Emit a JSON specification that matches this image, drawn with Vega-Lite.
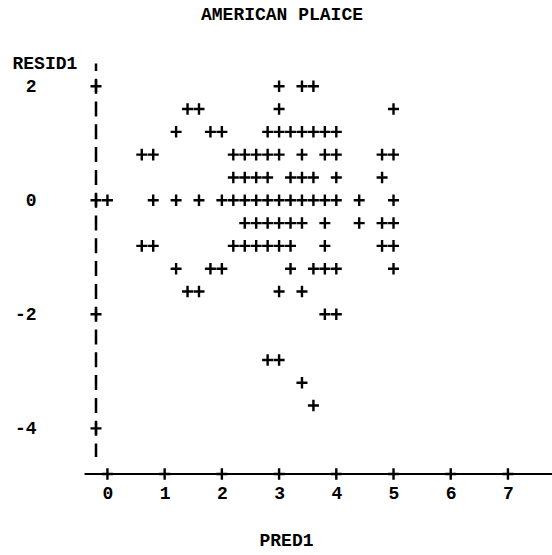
{
  "$schema": "https://vega.github.io/schema/vega-lite/v6.json",
  "width": 456,
  "height": 422,
  "autosize": {"type": "none"},
  "padding": {"left": 96, "top": 52, "right": 0, "bottom": 81},
  "background": "white",
  "config": {"view": {"stroke": null}},
  "title": {
    "text": "AMERICAN PLAICE",
    "anchor": "middle",
    "frame": "group",
    "dx": -42,
    "offset": 28,
    "font": "Liberation Mono",
    "fontWeight": "bold",
    "fontSize": 18,
    "color": "black"
  },
  "datasets": {
    "pts": [
      {"PRED1": 3.0, "RESID1": 2.0}, {"PRED1": 3.4, "RESID1": 2.0}, {"PRED1": 3.6, "RESID1": 2.0},
      {"PRED1": 1.4, "RESID1": 1.6}, {"PRED1": 1.6, "RESID1": 1.6}, {"PRED1": 3.0, "RESID1": 1.6}, {"PRED1": 5.0, "RESID1": 1.6},
      {"PRED1": 1.2, "RESID1": 1.2}, {"PRED1": 1.8, "RESID1": 1.2}, {"PRED1": 2.0, "RESID1": 1.2}, {"PRED1": 2.8, "RESID1": 1.2}, {"PRED1": 3.0, "RESID1": 1.2}, {"PRED1": 3.2, "RESID1": 1.2}, {"PRED1": 3.4, "RESID1": 1.2}, {"PRED1": 3.6, "RESID1": 1.2}, {"PRED1": 3.8, "RESID1": 1.2}, {"PRED1": 4.0, "RESID1": 1.2},
      {"PRED1": 0.6, "RESID1": 0.8}, {"PRED1": 0.8, "RESID1": 0.8}, {"PRED1": 2.2, "RESID1": 0.8}, {"PRED1": 2.4, "RESID1": 0.8}, {"PRED1": 2.6, "RESID1": 0.8}, {"PRED1": 2.8, "RESID1": 0.8}, {"PRED1": 3.0, "RESID1": 0.8}, {"PRED1": 3.4, "RESID1": 0.8}, {"PRED1": 3.8, "RESID1": 0.8}, {"PRED1": 4.0, "RESID1": 0.8}, {"PRED1": 4.8, "RESID1": 0.8}, {"PRED1": 5.0, "RESID1": 0.8},
      {"PRED1": 2.2, "RESID1": 0.4}, {"PRED1": 2.4, "RESID1": 0.4}, {"PRED1": 2.6, "RESID1": 0.4}, {"PRED1": 2.8, "RESID1": 0.4}, {"PRED1": 3.2, "RESID1": 0.4}, {"PRED1": 3.4, "RESID1": 0.4}, {"PRED1": 3.6, "RESID1": 0.4}, {"PRED1": 4.0, "RESID1": 0.4}, {"PRED1": 4.8, "RESID1": 0.4},
      {"PRED1": 0.0, "RESID1": 0.0}, {"PRED1": 0.8, "RESID1": 0.0}, {"PRED1": 1.2, "RESID1": 0.0}, {"PRED1": 1.6, "RESID1": 0.0}, {"PRED1": 2.0, "RESID1": 0.0}, {"PRED1": 2.2, "RESID1": 0.0}, {"PRED1": 2.4, "RESID1": 0.0}, {"PRED1": 2.6, "RESID1": 0.0}, {"PRED1": 2.8, "RESID1": 0.0}, {"PRED1": 3.0, "RESID1": 0.0}, {"PRED1": 3.2, "RESID1": 0.0}, {"PRED1": 3.4, "RESID1": 0.0}, {"PRED1": 3.6, "RESID1": 0.0}, {"PRED1": 3.8, "RESID1": 0.0}, {"PRED1": 4.0, "RESID1": 0.0}, {"PRED1": 4.4, "RESID1": 0.0}, {"PRED1": 5.0, "RESID1": 0.0},
      {"PRED1": 2.4, "RESID1": -0.4}, {"PRED1": 2.6, "RESID1": -0.4}, {"PRED1": 2.8, "RESID1": -0.4}, {"PRED1": 3.0, "RESID1": -0.4}, {"PRED1": 3.2, "RESID1": -0.4}, {"PRED1": 3.4, "RESID1": -0.4}, {"PRED1": 3.8, "RESID1": -0.4}, {"PRED1": 4.4, "RESID1": -0.4}, {"PRED1": 4.8, "RESID1": -0.4}, {"PRED1": 5.0, "RESID1": -0.4},
      {"PRED1": 0.6, "RESID1": -0.8}, {"PRED1": 0.8, "RESID1": -0.8}, {"PRED1": 2.2, "RESID1": -0.8}, {"PRED1": 2.4, "RESID1": -0.8}, {"PRED1": 2.6, "RESID1": -0.8}, {"PRED1": 2.8, "RESID1": -0.8}, {"PRED1": 3.0, "RESID1": -0.8}, {"PRED1": 3.2, "RESID1": -0.8}, {"PRED1": 3.8, "RESID1": -0.8}, {"PRED1": 4.8, "RESID1": -0.8}, {"PRED1": 5.0, "RESID1": -0.8},
      {"PRED1": 1.2, "RESID1": -1.2}, {"PRED1": 1.8, "RESID1": -1.2}, {"PRED1": 2.0, "RESID1": -1.2}, {"PRED1": 3.2, "RESID1": -1.2}, {"PRED1": 3.6, "RESID1": -1.2}, {"PRED1": 3.8, "RESID1": -1.2}, {"PRED1": 4.0, "RESID1": -1.2}, {"PRED1": 5.0, "RESID1": -1.2},
      {"PRED1": 1.4, "RESID1": -1.6}, {"PRED1": 1.6, "RESID1": -1.6}, {"PRED1": 3.0, "RESID1": -1.6}, {"PRED1": 3.4, "RESID1": -1.6},
      {"PRED1": 3.8, "RESID1": -2.0}, {"PRED1": 4.0, "RESID1": -2.0},
      {"PRED1": 2.8, "RESID1": -2.8}, {"PRED1": 3.0, "RESID1": -2.8},
      {"PRED1": 3.4, "RESID1": -3.2},
      {"PRED1": 3.6, "RESID1": -3.6}
    ],
    "xt": [{"v": 0}, {"v": 1}, {"v": 2}, {"v": 3}, {"v": 4}, {"v": 5}, {"v": 6}, {"v": 7}],
    "yt": [{"v": 2}, {"v": 0}, {"v": -2}, {"v": -4}]
  },
  "layer": [
    {
      "data": {"values": [{}]},
      "mark": {"type": "rule", "color": "black", "strokeWidth": 2.5, "strokeDash": [15, 7.8], "strokeDashOffset": 7.5},
      "encoding": {
        "x": {"datum": -0.2, "type": "quantitative"},
        "y": {"datum": 2.4, "type": "quantitative"},
        "y2": {"datum": -4.5}
      }
    },
    {
      "data": {"values": [{}]},
      "mark": {"type": "rule", "color": "black", "strokeWidth": 2},
      "encoding": {
        "x": {"datum": -0.4, "type": "quantitative"},
        "x2": {"datum": 7.77},
        "y": {"datum": -4.8, "type": "quantitative"}
      }
    },
    {
      "data": {"name": "pts"},
      "mark": {"type": "point", "shape": "M-1,0H1M0,-1.05V1.05", "filled": false, "stroke": "black", "strokeWidth": 2.4, "size": 121, "opacity": 1},
      "encoding": {
        "x": {
          "field": "PRED1", "type": "quantitative",
          "scale": {"domain": [-0.2, 7.77], "nice": false, "zero": false},
          "axis": {
            "title": "PRED1", "values": [0, 1, 2, 3, 4, 5, 6, 7], "labelExpr": "'' + datum.value",
            "domain": false, "ticks": false, "grid": false,
            "labelPadding": 10, "labelFlush": false, "labelFont": "Liberation Mono", "labelFontWeight": "bold", "labelFontSize": 18, "labelColor": "black",
            "titleFont": "Liberation Mono", "titleFontWeight": "bold", "titleFontSize": 18, "titleColor": "black",
            "titleX": 190, "titleY": 66, "titleAlign": "center", "titleBaseline": "middle"
          }
        },
        "y": {
          "field": "RESID1", "type": "quantitative",
          "scale": {"domain": [-4.8, 2.6], "nice": false, "zero": false},
          "axis": {
            "title": "RESID1", "values": [2, 0, -2, -4], "labelExpr": "'' + datum.value",
            "domain": false, "ticks": false, "grid": false,
            "labelPadding": 60, "labelAlign": "right", "labelBaseline": "middle", "labelFlush": false,
            "labelFont": "Liberation Mono", "labelFontWeight": "bold", "labelFontSize": 18, "labelColor": "black",
            "titleFont": "Liberation Mono", "titleFontWeight": "bold", "titleFontSize": 18, "titleColor": "black",
            "titleAngle": 0, "titleX": -84, "titleY": 11, "titleAlign": "left", "titleBaseline": "middle"
          }
        }
      }
    },
    {
      "data": {"name": "xt"},
      "mark": {"type": "point", "shape": "M-1,0H1M0,-1.05V1.05", "filled": false, "stroke": "black", "strokeWidth": 2.4, "size": 121, "opacity": 1},
      "encoding": {
        "x": {"field": "v", "type": "quantitative"},
        "y": {"datum": -4.8, "type": "quantitative"}
      }
    },
    {
      "data": {"name": "yt"},
      "mark": {"type": "point", "shape": "M-1,0H1M0,-1.05V1.05", "filled": false, "stroke": "black", "strokeWidth": 2.4, "size": 121, "opacity": 1},
      "encoding": {
        "x": {"datum": -0.2, "type": "quantitative"},
        "y": {"field": "v", "type": "quantitative"}
      }
    }
  ]
}
